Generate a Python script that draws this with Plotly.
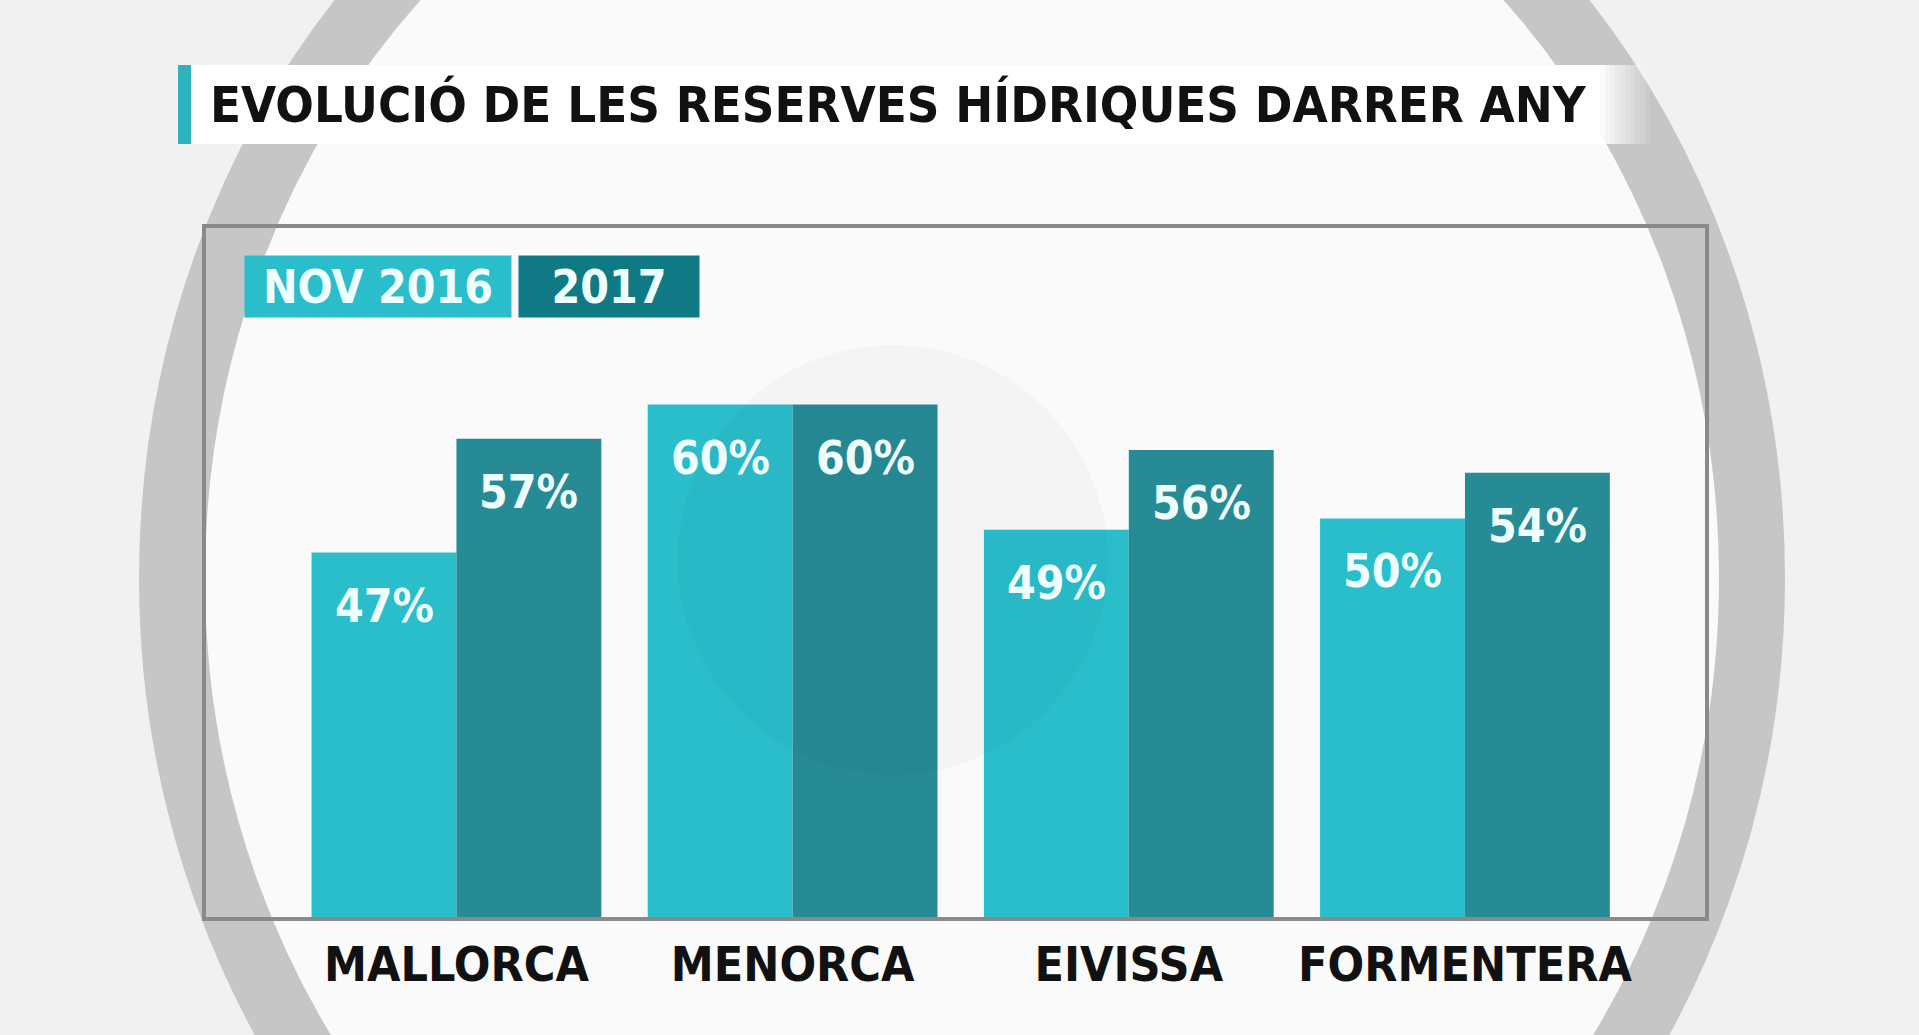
import plotly.graph_objects as go

# data
islands = ["MALLORCA", "MENORCA", "EIVISSA", "FORMENTERA"]
nov_2016 = [47, 60, 49, 50]
year_2017 = [57, 60, 56, 54]
series = ["NOV 2016", "2017"]
title = "EVOLUCIÓ DE LES RESERVES HÍDRIQUES DARRER ANY"

LIGHT = "#2abdca"
DARK = "#268b95"
LEG_DARK = "#0f7a83"
FONT = "Liberation Sans Narrow, DejaVu Sans Condensed, Arial Narrow, sans-serif"

W, H = 1919, 1035
L, R, T, B = 206, 1705, 228, 917  # plot area in pixels


def px(x):
  return (x - L) / (R - L)


def py(y):
  return (B - y) / (B - T)


bw = 0.431
xs = list(range(len(islands)))

fig = go.Figure()
fig.add_trace(go.Bar(x=xs, y=nov_2016, width=bw, offset=-bw, marker=dict(color=LIGHT, line_width=0),
                     name=series[0], hoverinfo="skip"))
fig.add_trace(go.Bar(x=xs, y=year_2017, width=bw, offset=0, marker=dict(color=DARK, line_width=0),
                     name=series[1], hoverinfo="skip"))

ann = []
for i, (a, b) in enumerate(zip(nov_2016, year_2017)):
  for xo, v in ((-bw / 2, a), (bw / 2, b)):
    ann.append(dict(x=i + xo, y=v, xref="x", yref="y", xanchor="center", text=f"{v}%", showarrow=False,
                    yshift=-53, font=dict(family=FONT, size=46, weight="bold", color="#effefe")))

# title
ann.append(dict(x=px(208), y=py(104), xref="paper", yref="paper", xanchor="left", yanchor="middle",
                text=title, showarrow=False, font=dict(family=FONT, size=50.5, weight="bold", color="#111111")))

# legend boxes
for name, col, x0, x1 in ((series[0], LIGHT, 245, 511), (series[1], LEG_DARK, 519, 699)):
  ann.append(dict(x=px((x0 + x1) / 2), y=py(286), xref="paper", yref="paper", xanchor="center",
                  yanchor="middle", text=name, showarrow=False, bgcolor=col, width=x1 - x0, height=61,
                  borderpad=0, font=dict(family=FONT, size=46, weight="bold", color="#effefe")))

shapes = []
# background ring (slightly oval)
cx, cy, rx, ry = 962, 578, 790, 860
shapes.append(dict(type="circle", xref="paper", yref="paper", layer="below",
                   x0=px(cx - rx), x1=px(cx + rx), y0=py(cy + ry), y1=py(cy - ry),
                   fillcolor="#fafafa", line=dict(color="#c6c6c6", width=66)))
# faint logo circle
shapes.append(dict(type="circle", xref="paper", yref="paper", layer="above",
                   x0=px(893 - 215), x1=px(893 + 215), y0=py(560 + 215), y1=py(560 - 215),
                   fillcolor="rgba(0,0,0,0.022)", line_width=0))
# title strip, fading to the right
shapes.append(dict(type="rect", xref="paper", yref="paper", layer="below",
                   x0=px(191), x1=px(1600), y0=py(144), y1=py(65),
                   fillcolor="white", line_width=0))
for k in range(10):
  shapes.append(dict(type="rect", xref="paper", yref="paper", layer="below",
                     x0=px(1600 + 5 * k), x1=px(1605 + 5 * k), y0=py(144), y1=py(65),
                     fillcolor=f"rgba(255,255,255,{0.9 - 0.09 * k:.2f})", line_width=0))
shapes.append(dict(type="rect", xref="paper", yref="paper", layer="above",
                   x0=px(178), x1=px(191), y0=py(144), y1=py(65),
                   fillcolor="#2bb3c0", line_width=0))

fig.update_layout(
  width=W, height=H,
  margin=dict(l=L, r=W - R, t=T, b=H - B, pad=0),
  paper_bgcolor="#f1f1f1",
  plot_bgcolor="rgba(255,255,255,0.8)",
  barmode="overlay",
  showlegend=False,
  annotations=ann,
  shapes=shapes,
  xaxis=dict(range=[-0.745, 3.714], tickvals=xs, ticktext=islands, showgrid=False, zeroline=False,
             showline=True, mirror=True, linecolor="#8a8a8a", linewidth=4, ticks="",
             ticklabelstandoff=2, tickfont=dict(family=FONT, size=48, weight="bold", color="#111111")),
  yaxis=dict(range=[15, 75.5], showticklabels=False, showgrid=False, zeroline=False,
             showline=True, mirror=True, linecolor="#8a8a8a", linewidth=4, ticks=""),
)

fig.write_html("out.html", config={"displayModeBar": False},
               post_script="document.body.style.margin='0';")
